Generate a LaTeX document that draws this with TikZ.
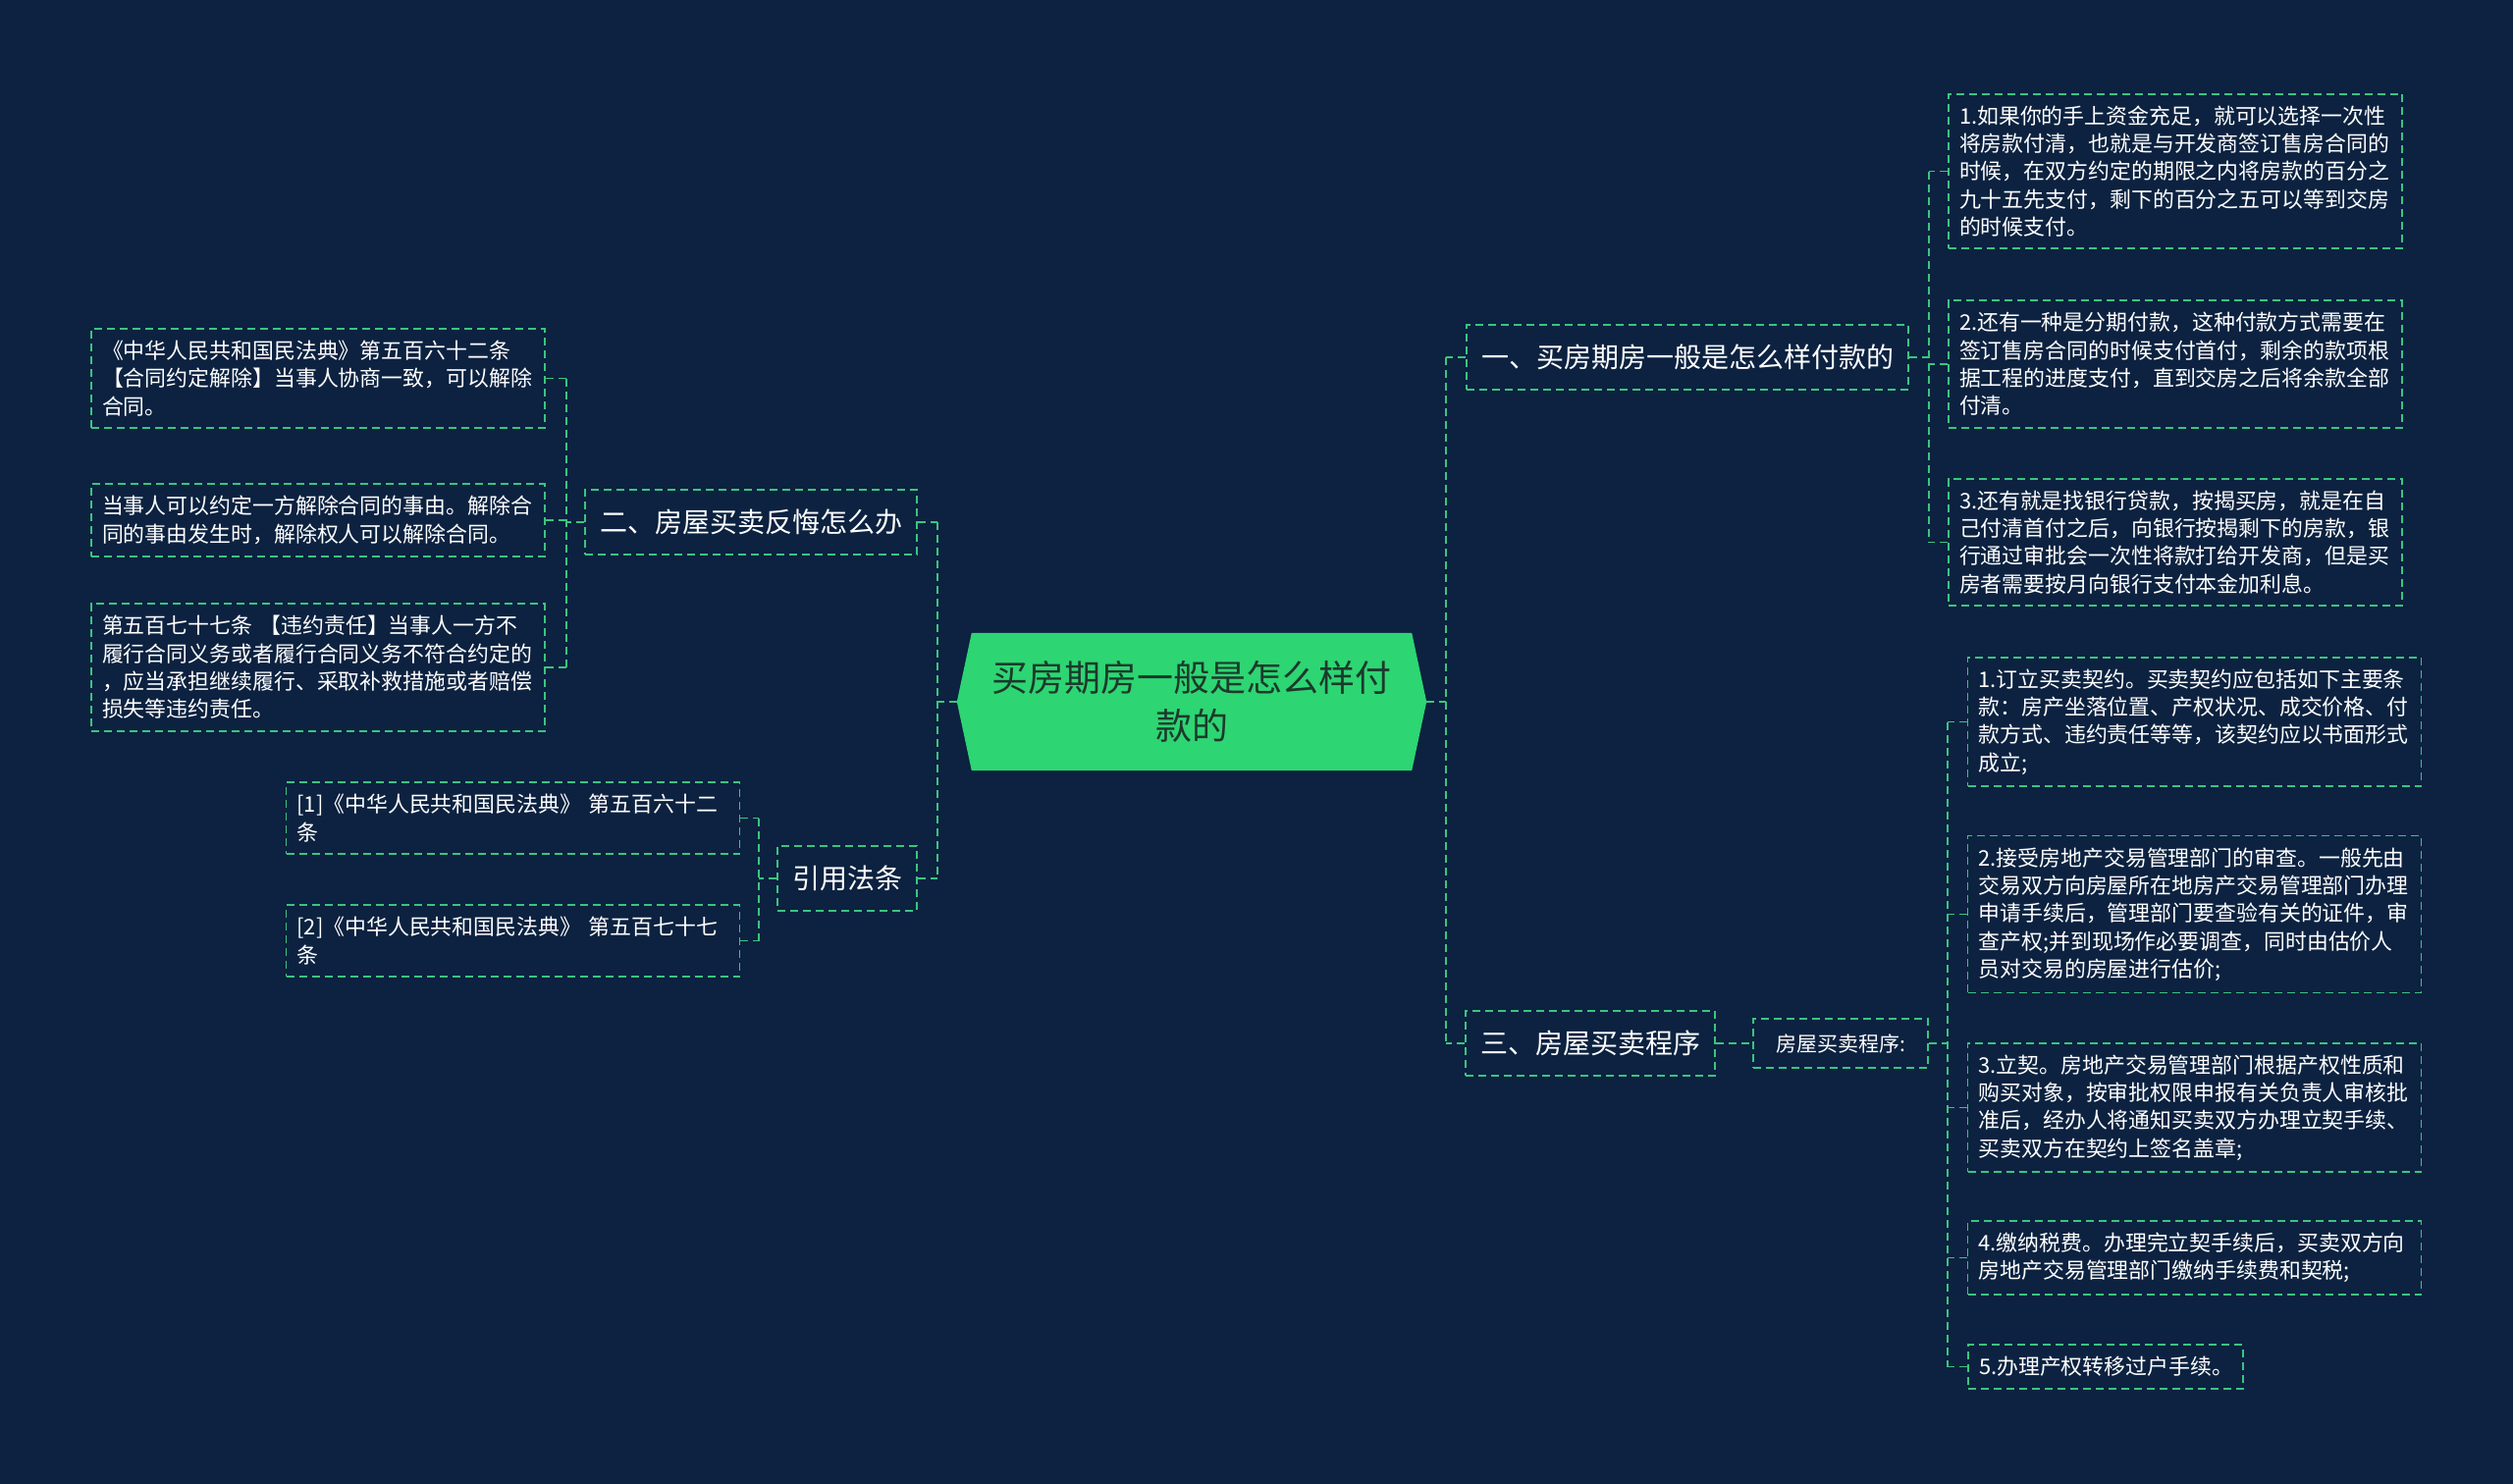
\documentclass[tikz,border=0pt]{standalone}
\usepackage{fontspec}
\newfontfamily\cjk{Noto Sans CJK SC}
\usetikzlibrary{backgrounds}
\definecolor{NightBlue}{HTML}{0C2240}
\definecolor{MintLine}{HTML}{3CC47F}
\definecolor{RootGreen}{HTML}{2ED573}
\definecolor{RootText}{HTML}{1C3A2B}
\tikzset{
  leaf/.style={draw=MintLine, line width=1.9pt, dash pattern=on 8pt off 5pt, text=white, align=left, text width=440pt, inner xsep=11pt, inner ysep=12pt, font=\cjk\fontsize{21.9}{28.3}\selectfont},
  branch/.style={draw=MintLine, line width=1.9pt, dash pattern=on 8pt off 5pt, text=white, align=center, inner xsep=15pt, minimum height=66pt, font=\cjk\fontsize{28}{32}\selectfont},
  procbox/.style={draw=MintLine, line width=1.9pt, dash pattern=on 8pt off 5pt, text=white, align=center, minimum width=178pt, minimum height=50pt, font=\cjk\fontsize{21}{26}\selectfont},
  rootbox/.style={text=RootText, align=center, minimum width=478pt, minimum height=140pt, font=\cjk\fontsize{37}{49}\selectfont},
  link/.style={draw=MintLine, line width=1.9pt, dash pattern=on 8pt off 5pt}
}
\begin{document}
\begin{tikzpicture}[x=1pt, y=-1pt]
\useasboundingbox (0,0) rectangle (2560,1512);
\node[rootbox] (root) at (1214,715) {买房期房一般是怎么样付\\款的};
\begin{scope}[on background layer]
\fill[NightBlue] (0,0) rectangle (2560,1512);
\fill[RootGreen] (root.west) -- ([xshift=15pt]root.north west) -- ([xshift=-15pt]root.north east) -- (root.east) -- ([xshift=-15pt]root.south east) -- ([xshift=15pt]root.south west) -- cycle;
\end{scope}
\coordinate (ltrunk) at (955,715);
\coordinate (rtrunk) at (1473,715);
\coordinate (lvert) at (577,0);
\coordinate (refvert) at (773,0);
\coordinate (avert) at (1965,0);
\coordinate (bvert) at (1984,0);

\node[branch] (br1) at (1719,364) {一、买房期房一般是怎么样付款的};
\node[branch] (br3) at (1620,1063) {三、房屋买卖程序};
\node[branch] (br2) at (765,532) {二、房屋买卖反悔怎么办};
\node[branch] (brref) at (863,895) {引用法条};
\node[procbox] (proc) at (1875,1063) {房屋买卖程序:};

\node[leaf] (a1) at (2216,174.5) {1.如果你的手上资金充足，就可以选择一次性\\将房款付清，也就是与开发商签订售房合同的\\时候，在双方约定的期限之内将房款的百分之\\九十五先支付，剩下的百分之五可以等到交房\\的时候支付。};
\node[leaf] (a2) at (2216,371) {2.还有一种是分期付款，这种付款方式需要在\\签订售房合同的时候支付首付，剩余的款项根\\据工程的进度支付，直到交房之后将余款全部\\付清。};
\node[leaf] (a3) at (2216,552.5) {3.还有就是找银行贷款，按揭买房，就是在自\\己付清首付之后，向银行按揭剩下的房款，银\\行通过审批会一次性将款打给开发商，但是买\\房者需要按月向银行支付本金加利息。};

\node[leaf] (b1) at (2235.5,735.5) {1.订立买卖契约。买卖契约应包括如下主要条\\款：房产坐落位置、产权状况、成交价格、付\\款方式、违约责任等等，该契约应以书面形式\\成立;};
\node[leaf] (b2) at (2235.5,931.5) {2.接受房地产交易管理部门的审查。一般先由\\交易双方向房屋所在地房产交易管理部门办理\\申请手续后，管理部门要查验有关的证件，审\\查产权;并到现场作必要调查，同时由估价人\\员对交易的房屋进行估价;};
\node[leaf] (b3) at (2235.5,1128.5) {3.立契。房地产交易管理部门根据产权性质和\\购买对象，按审批权限申报有关负责人审核批\\准后，经办人将通知买卖双方办理立契手续、\\买卖双方在契约上签名盖章;};
\node[leaf] (b4) at (2235.5,1281.5) {4.缴纳税费。办理完立契手续后，买卖双方向\\房地产交易管理部门缴纳手续费和契税;};
\node[leaf, text width=258pt] (b5) at (2145,1392.5) {5.办理产权转移过户手续。};

\node[leaf] (l1) at (324,385.5) {《中华人民共和国民法典》第五百六十二条\\【合同约定解除】当事人协商一致，可以解除\\合同。};
\node[leaf] (l2) at (324,530) {当事人可以约定一方解除合同的事由。解除合\\同的事由发生时，解除权人可以解除合同。};
\node[leaf] (l3) at (324,680) {第五百七十七条 【违约责任】当事人一方不\\履行合同义务或者履行合同义务不符合约定的\\，应当承担继续履行、采取补救措施或者赔偿\\损失等违约责任。};

\node[leaf] (r1) at (522.5,833.5) {[1]《中华人民共和国民法典》 第五百六十二\\条};
\node[leaf] (r2) at (522.5,958.5) {[2]《中华人民共和国民法典》 第五百七十七\\条};

\draw[link] (root.west) -- (ltrunk);
\draw[link] (root.east) -- (rtrunk);
\draw[link] (br2.east -| ltrunk) -- (brref.east -| ltrunk);
\draw[link] (br1.west -| rtrunk) -- (br3.west -| rtrunk);
\foreach \n in {br2,brref}
  \draw[link] (\n.east) -- (\n.east -| ltrunk);
\foreach \n in {br1,br3}
  \draw[link] (\n.west) -- (\n.west -| rtrunk);

\draw[link] (l1.east -| lvert) -- (l3.east -| lvert);
\draw[link] (br2.west) -- (br2.west -| lvert);
\foreach \n in {l1,l2,l3}
  \draw[link] (\n.east) -- (\n.east -| lvert);

\draw[link] (r1.east -| refvert) -- (r2.east -| refvert);
\draw[link] (brref.west) -- (brref.west -| refvert);
\foreach \n in {r1,r2}
  \draw[link] (\n.east) -- (\n.east -| refvert);

\draw[link] (a1.west -| avert) -- (a3.west -| avert);
\draw[link] (br1.east) -- (br1.east -| avert);
\foreach \n in {a1,a2,a3}
  \draw[link] (\n.west) -- (\n.west -| avert);

\draw[link] (br3.east) -- (proc.west);
\draw[link] (b1.west -| bvert) -- (b5.west -| bvert);
\draw[link] (proc.east) -- (proc.east -| bvert);
\foreach \n in {b1,b2,b3,b4,b5}
  \draw[link] (\n.west) -- (\n.west -| bvert);
\end{tikzpicture}
\end{document}
